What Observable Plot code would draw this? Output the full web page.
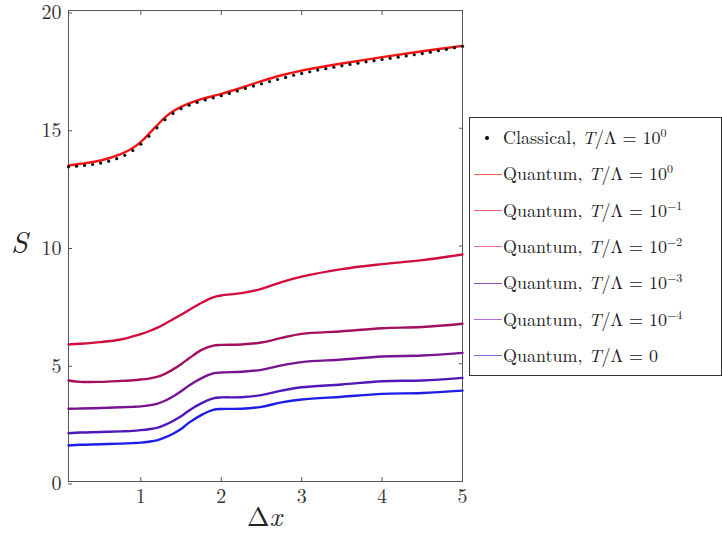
<!DOCTYPE html>
<html>
<head>
<meta charset="utf-8">
<script src="https://cdn.jsdelivr.net/npm/d3@7"></script>
<script src="https://cdn.jsdelivr.net/npm/@observablehq/plot@0.6"></script>
<style>
  html, body { margin: 0; padding: 0; background: #fff; }
  #wrap { position: relative; width: 722px; height: 533px; font-family: 'Latin Modern Roman', 'Liberation Serif', serif; color: #222; overflow: hidden; }
  #legend { position: absolute; left: 469px; top: 117px; width: 253px; height: 259px; box-sizing: border-box; border: 1px solid #333; background: #fff; }
  .row { position: absolute; left: 0; height: 22px; line-height: 22px; font-size: 18px; white-space: nowrap; font-family: 'Latin Modern Roman', 'Liberation Serif', serif; }
  .row .txt { position: absolute; left: 33px; top: -12px; }
  .row .ln { position: absolute; left: 4px; top: -0.5px; width: 28px; height: 1px; }
  .row .dot { position: absolute; left: 15px; top: -2px; width: 4px; height: 4px; border-radius: 2px; background: #000; }
  sup { font-size: 12px; vertical-align: 0; position: relative; top: -7px; }
  .lab { position: absolute; font-family: 'Latin Modern Roman', 'Liberation Serif', serif; color: #222; line-height: 1; }
</style>
</head>
<body>
<div id="wrap"></div>
<script>
// ---- data ----
const xGrid = [0.1, 0.25, 0.5, 0.75, 0.9, 1.0, 1.1, 1.2, 1.3, 1.4, 1.5, 1.6, 1.75, 1.9, 2.0, 2.25, 2.5, 2.75, 3.0, 3.5, 4.0, 4.5, 5.0];
const q1e0  = [13.42, 13.49, 13.63, 13.90, 14.16, 14.42, 14.76, 15.12, 15.46, 15.72, 15.91, 16.06, 16.24, 16.37, 16.46, 16.72, 17.0, 17.25, 17.45, 17.75, 18.02, 18.27, 18.5];
const q1em1 = [5.82, 5.85, 5.92, 6.03, 6.16, 6.26, 6.38, 6.52, 6.70, 6.89, 7.08, 7.28, 7.58, 7.82, 7.90, 8.0, 8.18, 8.47, 8.7, 9.02, 9.23, 9.4, 9.64];
const q1em2 = [4.29, 4.23, 4.23, 4.27, 4.30, 4.33, 4.37, 4.44, 4.57, 4.76, 4.98, 5.23, 5.58, 5.77, 5.80, 5.82, 5.90, 6.10, 6.27, 6.38, 6.51, 6.56, 6.70];
const q1em3 = [3.09, 3.10, 3.12, 3.15, 3.17, 3.19, 3.23, 3.30, 3.43, 3.61, 3.83, 4.08, 4.38, 4.59, 4.63, 4.66, 4.74, 4.93, 5.07, 5.18, 5.31, 5.35, 5.46];
const q1em4 = [2.05, 2.08, 2.10, 2.13, 2.15, 2.18, 2.22, 2.28, 2.40, 2.57, 2.77, 3.02, 3.32, 3.53, 3.57, 3.58, 3.67, 3.86, 4.0, 4.12, 4.26, 4.29, 4.40];
const q0    = [1.53, 1.56, 1.58, 1.61, 1.63, 1.65, 1.69, 1.75, 1.87, 2.03, 2.23, 2.50, 2.82, 3.04, 3.08, 3.09, 3.17, 3.36, 3.48, 3.6, 3.72, 3.76, 3.86];

const classicalX = [0.1,0.2,0.3,0.4,0.5,0.6,0.7,0.8,0.9,1.0,1.1,1.2,1.3,1.4,1.5,1.6,1.7,1.8,1.9,2.0,2.1,2.2,2.3,2.4,2.5,2.6,2.7,2.8,2.9,3.0,3.1,3.2,3.3,3.4,3.5,3.6,3.7,3.8,3.9,4.0,4.1,4.2,4.3,4.4,4.5,4.6,4.7,4.8,4.9,5.0];
const classicalS = [13.36,13.39,13.42,13.46,13.52,13.60,13.71,13.85,14.05,14.32,14.66,15.02,15.36,15.63,15.83,15.98,16.10,16.20,16.29,16.38,16.48,16.58,16.69,16.79,16.89,16.98,17.07,17.16,17.25,17.33,17.40,17.47,17.53,17.59,17.65,17.71,17.76,17.82,17.87,17.92,17.97,18.02,18.07,18.12,18.17,18.23,18.29,18.35,18.42,18.48];

const seriesNames = ["Quantum, T/Λ = 10^0", "Quantum, T/Λ = 10^-1", "Quantum, T/Λ = 10^-2", "Quantum, T/Λ = 10^-3", "Quantum, T/Λ = 10^-4", "Quantum, T/Λ = 0"];
const seriesValues = [q1e0, q1em1, q1em2, q1em3, q1em4, q0];
const seriesColors = ["#f21414", "#d20c3c", "#a3105e", "#781490", "#5018b8", "#1c1ee6"];
const legendLabels = [
  "Classical, <i>T</i>/Λ = 10<sup>0</sup>",
  "Quantum, <i>T</i>/Λ = 10<sup>0</sup>",
  "Quantum, <i>T</i>/Λ = 10<sup>−1</sup>",
  "Quantum, <i>T</i>/Λ = 10<sup>−2</sup>",
  "Quantum, <i>T</i>/Λ = 10<sup>−3</sup>",
  "Quantum, <i>T</i>/Λ = 10<sup>−4</sup>",
  "Quantum, <i>T</i>/Λ = 0"
];
const legendColors = ["#ff6060", "#f56080", "#f07090", "#9050b0", "#b070d0", "#7474dc"];
const xTicks = [1, 2, 3, 4, 5];
const yTicks = [0, 5, 10, 15, 20];

// ---- build ----
const lines = seriesNames.flatMap((name, i) => xGrid.map((x, j) => ({series: name, x, S: seriesValues[i][j]})));
const classical = classicalX.map((x, i) => ({x, S: classicalS[i]}));

const chart = Plot.plot({
  width: 722,
  height: 533,
  marginLeft: 68,
  marginRight: 260,
  marginTop: 10,
  marginBottom: 52,
  style: {fontFamily: "'Latin Modern Roman', 'Liberation Serif', serif", fontSize: "20px", color: "#333", background: "white", overflow: "visible"},
  x: {domain: [0.1, 5], label: null},
  y: {domain: [0, 20], label: null},
  color: {domain: seriesNames, range: seriesColors},
  marks: [
    Plot.frame({stroke: "#555", strokeWidth: 1}),
    Plot.axisX(xTicks, {anchor: "bottom", tickSize: -4, tickPadding: 11, stroke: "#555", fill: "#333", fontFamily: "Latin Modern Roman", fontSize: 20}),
    Plot.axisX(xTicks, {anchor: "top", tickSize: -4, tickFormat: () => "", stroke: "#555"}),
    Plot.axisY(yTicks, {anchor: "left", tickSize: -4, tickPadding: 11, dy: 2.5, stroke: "#555", fill: "#333", fontFamily: "Latin Modern Roman", fontSize: 20}),
    Plot.axisY(yTicks, {anchor: "right", tickSize: -4, tickFormat: () => "", stroke: "#555"}),
    Plot.line(lines, {x: "x", y: "S", z: "series", stroke: "series", strokeWidth: 2.4, curve: "catmull-rom"}),
    Plot.dot(classical, {x: "x", y: "S", r: 1.6, fill: "#111", stroke: null})
  ]
});

const wrap = document.getElementById("wrap");
wrap.appendChild(chart);

// axis labels
const sLab = document.createElement("div");
sLab.className = "lab";
sLab.style.cssText = "left:11px;top:226px;font-size:30px;font-style:italic;";
sLab.textContent = "S";
wrap.appendChild(sLab);
const xLab = document.createElement("div");
xLab.className = "lab";
xLab.style.cssText = "left:247px;top:502px;font-size:27px;";
xLab.innerHTML = "Δ<i>x</i>";
wrap.appendChild(xLab);

// legend
const legend = document.createElement("div");
legend.id = "legend";
legendLabels.forEach((lab, i) => {
  const row = document.createElement("div");
  row.className = "row";
  row.style.top = (20 + i * 36.3) + "px";
  const mark = document.createElement("div");
  if (i === 0) { mark.className = "dot"; }
  else { mark.className = "ln"; mark.style.background = legendColors[i - 1]; }
  row.appendChild(mark);
  const t = document.createElement("span");
  t.className = "txt";
  t.innerHTML = lab;
  row.appendChild(t);
  legend.appendChild(row);
});
wrap.appendChild(legend);
</script>
</body>
</html>
